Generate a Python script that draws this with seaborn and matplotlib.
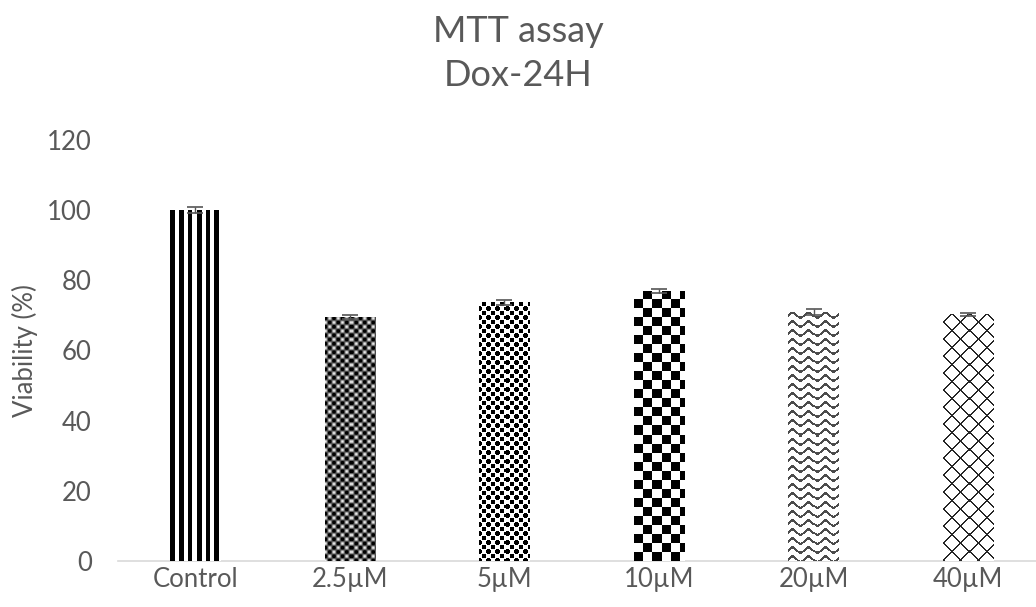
import numpy as np
import pandas as pd
import matplotlib
matplotlib.use("Agg")
import matplotlib.pyplot as plt
import seaborn as sns

# Viability data (mean % of control, with small spread)
groups = ["Control", "2.5µM", "5µM", "10µM", "20µM", "40µM"]
viability = [100.0, 69.5, 73.8, 77.0, 71.0, 70.3]
spread = [0.8, 0.6, 0.7, 0.6, 0.8, 0.5]
yticks = [0, 20, 40, 60, 80, 100, 120]

TXT = "#595959"

sns.set_theme(style="white")
plt.rcParams["font.family"] = ["Lato", "DejaVu Sans"]

fig = plt.figure(figsize=(10.36, 6.07), dpi=100)
ax = fig.add_axes([0.114, 0.0758, 0.895, 0.6936])

df = pd.DataFrame({"group": groups, "viability": viability})
sns.barplot(data=df, x="group", y="viability", color="white", width=0.325,
            saturation=1, errorbar=None, ax=ax, edgecolor="none", zorder=2)

ax.set_xlim(-0.5, 5.5)
ax.set_ylim(0, 120)
ax.set_yticks(yticks)
ax.tick_params(axis="both", length=0, labelsize=18.5, labelcolor=TXT)
ax.tick_params(axis="y", pad=19)
ax.tick_params(axis="x", pad=4)
ax.set_xlabel("")
ax.set_ylabel("Viability (%)", fontsize=18.5, color=TXT)
ax.yaxis.set_label_coords(-0.086, 0.5)
for s in ["left", "right", "top"]:
    ax.spines[s].set_visible(False)
ax.spines["bottom"].set_color("#d9d9d9")
ax.spines["bottom"].set_linewidth(1.2)
ax.grid(False)

fig.text(0.5, 0.948, "MTT assay", ha="center", va="center", fontsize=26, color=TXT)
fig.text(0.5, 0.875, "Dox-24H", ha="center", va="center", fontsize=26, color=TXT)


# Pixel textures used to fill the bars
def stripes(i, j):
    return np.where((j % 8.6) < 4.6, 0.0, 1.0)


def mesh(i, j):
    a = np.cos(2 * np.pi * j / 8.5)
    b = np.cos(2 * np.pi * i / 8.5)
    c = np.cos(2 * np.pi * (i + j) / 8.5)
    d = np.cos(2 * np.pi * (i - j) / 8.5)
    v = 0.33 + 0.3 * a * b + 0.15 * c + 0.15 * d
    return np.clip(v, 0, 1)


def dots(i, j):
    p = 9.0
    d1 = ((i % p) - p / 2) ** 2 + ((j % p) - p / 2) ** 2
    d2 = (((i + p / 2) % p) - p / 2) ** 2 + (((j + p / 2) % p) - p / 2) ** 2
    return np.where((d1 < 6.5) | (d2 < 6.5), 0.0, 1.0)


def checker(i, j):
    ii = i.astype(int) // 9
    jj = j.astype(int) // 9
    return np.where(((ii + jj) % 2) == 0, 0.0, 1.0)


def waves(i, j):
    d = (i - 2.6 * np.sin(2 * np.pi * j / 16.0)) % 9.0
    return np.where(d < 2.6, 0.3, 1.0)


def lattice(i, j):
    p = 17.0
    on = ((i + j) % p < 1.6) | ((i - j) % p < 1.6)
    return np.where(on, 0.15, 1.0)


fills = [stripes, mesh, dots, checker, waves, lattice]

fig.canvas.draw()
for patch, fn in zip(ax.patches, fills):
    bb = patch.get_window_extent()
    w_px = max(int(round(bb.width)), 1)
    h_px = max(int(round(bb.height)), 1)
    i, j = np.mgrid[0:h_px, 0:w_px].astype(float)
    # anchor the texture to the bar's base
    i = (h_px - 1) - i
    tex = fn(i, j)
    x0 = patch.get_x()
    x1 = x0 + patch.get_width()
    y0 = patch.get_y()
    y1 = y0 + patch.get_height()
    im = ax.imshow(tex, cmap="gray", vmin=0, vmax=1, extent=(x0, x1, y0, y1),
                   origin="upper", interpolation="nearest", aspect="auto", zorder=3)
    im.set_clip_path(patch)

centers = [p.get_x() + p.get_width() / 2 for p in ax.patches]
heights = [p.get_height() for p in ax.patches]
ax.errorbar(centers, heights, yerr=spread, fmt="none", ecolor="#555555",
            elinewidth=1, capsize=6, capthick=1.2, zorder=4)

ax.set_xlim(-0.5, 5.5)
ax.set_ylim(0, 120)
ax.set_aspect("auto")

fig.savefig("out.png", dpi=100)
